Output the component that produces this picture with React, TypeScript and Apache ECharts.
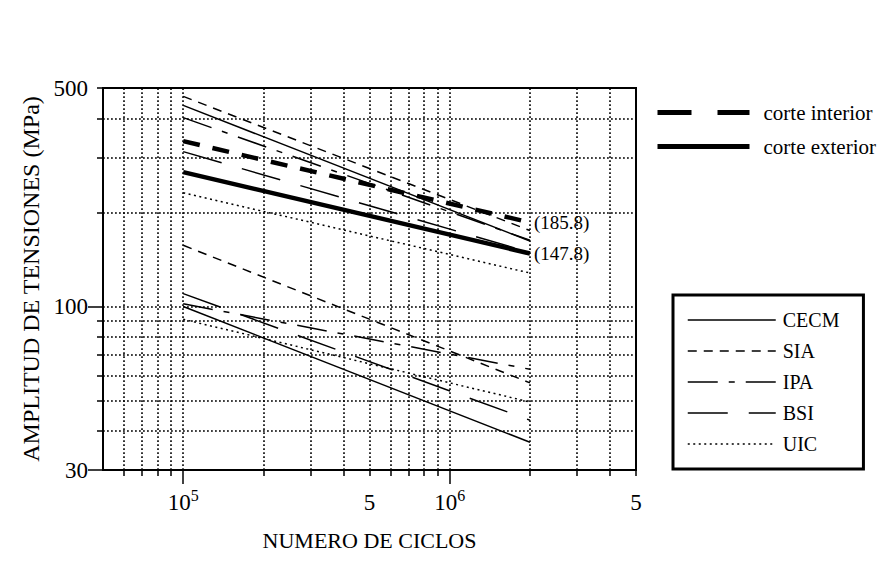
import React, { useEffect, useRef } from "react";
import * as echarts from "echarts";

// ---------------- data ----------------
const cycles = [1e5, 2e6];

const cecmUpper = [440, 162];
const siaUpper = [470, 175];
const ipaUpper = [402, 163];
const bsiUpper = [313, 149];
const uicUpper = [231, 128];
const corteInterior = [338, 185.8];
const corteExterior = [269, 147.8];

const cecmLower = [100, 36.8];
const siaLower = [157, 57];
const ipaLower = [102, 63];
const bsiLower = [110, 43.3];
const uicLower = [91, 49.5];

const endLabels = ["(185.8)", "(147.8)"];

const xLabelValues = [1e5, 5e5, 1e6, 5e6];
const xLabelTexts = ["10^5", "5", "10^6", "5"];
const yLabelValues = [30, 100, 500];
const yLabelTexts = ["30", "100", "500"];

const xMajorTicks = [1e5, 1e6];
const xMinorTicks = [6e4, 7e4, 8e4, 9e4, 2e5, 3e5, 4e5, 5e5, 6e5, 7e5, 8e5, 9e5, 2e6, 3e6, 4e6, 5e6];
const yMajorTicks = [30, 100];
const yMinorTicks = [40, 50, 60, 70, 80, 90, 200, 300, 400, 500];

const xGridValues = [6e4, 7e4, 8e4, 9e4, 1e5, 2e5, 3e5, 4e5, 5e5, 6e5, 7e5, 8e5, 9e5, 1e6, 2e6, 3e6, 4e6];
const yGridValues = [40, 50, 60, 70, 80, 90, 100, 200, 300, 400];

const codeNames = ["CECM", "SIA", "IPA", "BSI", "UIC"];
const corteNames = ["corte interior", "corte exterior"];

const xTitle = "NUMERO DE CICLOS";
const yTitle = "AMPLITUD DE TENSIONES (MPa)";

// ---------------- styles ----------------
const SERIF = "'Liberation Serif', 'DejaVu Serif', serif";
const INK = "#000";
const dashOf: Record<string, any> = {
  CECM: "solid",
  SIA: [9, 7],
  IPA: [30, 11, 6, 11],
  BSI: [40, 21],
  UIC: [2, 3.5],
};

function nearestIndex(values: number[], v: number) {
  let best = 0;
  let bd = Infinity;
  values.forEach((x, i) => {
    const d = Math.abs(Math.log10(x) - Math.log10(v));
    if (d < bd) {
      bd = d;
      best = i;
    }
  });
  return best;
}

function thin(name: string, values: number[]) {
  return {
    type: "line",
    name,
    data: cycles.map((c, i) => [c, values[i]]),
    symbol: "none",
    showSymbol: false,
    silent: true,
    z: 3,
    lineStyle: { color: INK, width: 1.5, type: dashOf[name] },
    itemStyle: { color: INK },
  };
}

export default function App() {
  const ref = useRef<HTMLDivElement>(null);

  useEffect(() => {
    if (!ref.current) return;
    const chart = echarts.init(ref.current, undefined, { renderer: "svg" });

    const series: any[] = [
      {
        type: "line",
        name: "_grid",
        data: [[1e5, 100]],
        symbol: "none",
        showSymbol: false,
        silent: true,
        z: 1,
        lineStyle: { opacity: 0 },
        markLine: {
          silent: true,
          animation: false,
          symbol: ["none", "none"],
          label: { show: false },
          lineStyle: { color: "#000", width: 1.6, type: [1.8, 2.2] },
          emphasis: { disabled: true },
          data: [
            ...xGridValues.map((v) => ({ xAxis: v })),
            ...yGridValues.map((v) => ({ yAxis: v })),
          ],
        },
      },
      thin("CECM", cecmUpper),
      thin("SIA", siaUpper),
      thin("IPA", ipaUpper),
      thin("BSI", bsiUpper),
      thin("UIC", uicUpper),
      thin("CECM", cecmLower),
      thin("SIA", siaLower),
      thin("IPA", ipaLower),
      thin("BSI", bsiLower),
      thin("UIC", uicLower),
      {
        type: "line",
        name: corteNames[0],
        data: cycles.map((c, i) => [c, corteInterior[i]]),
        symbol: "none",
        showSymbol: false,
        silent: true,
        z: 4,
        lineStyle: { color: INK, width: 4.5, type: [17, 13] },
        itemStyle: { color: INK },
        endLabel: {
          show: true,
          formatter: endLabels[0],
          distance: 4,
          fontFamily: SERIF,
          fontSize: 19,
          color: INK,
        },
      },
      {
        type: "line",
        name: corteNames[1],
        data: cycles.map((c, i) => [c, corteExterior[i]]),
        symbol: "none",
        showSymbol: false,
        silent: true,
        z: 4,
        lineStyle: { color: INK, width: 4.5, type: "solid" },
        itemStyle: { color: INK },
        endLabel: {
          show: true,
          formatter: endLabels[1],
          distance: 4,
          fontFamily: SERIF,
          fontSize: 19,
          color: INK,
        },
      },
    ];

    chart.setOption({
      animation: false,
      backgroundColor: "#fff",
      textStyle: { fontFamily: SERIF, color: INK },
      grid: {
        left: 103,
        top: 88,
        right: 248,
        bottom: 101,
        show: true,
        borderColor: INK,
        borderWidth: 2,
        backgroundColor: "transparent",
        containLabel: false,
      },
      xAxis: [
        {
          type: "log",
          logBase: 10,
          min: 5e4,
          max: 5e6,
          position: "bottom",
          axisLine: { show: true, lineStyle: { color: INK, width: 2 } },
          axisTick: {
            show: true,
            customValues: xMajorTicks,
            length: 14,
            lineStyle: { color: INK, width: 1.5 },
          },
          axisLabel: {
            show: true,
            customValues: xLabelValues,
            margin: 17,
            color: INK,
            formatter: (v: number) => {
              const t = xLabelTexts[nearestIndex(xLabelValues, v)];
              const [b, e] = t.split("^");
              return e ? `{n|${b}}{s|${e}}` : `{n|${b}}`;
            },
            rich: {
              n: { fontFamily: SERIF, fontSize: 23, color: INK, lineHeight: 30 },
              s: { fontFamily: SERIF, fontSize: 16, color: INK, lineHeight: 16, verticalAlign: "top" },
            },
          },
          splitLine: { show: false },
          name: xTitle,
          nameLocation: "middle",
          nameGap: 59,
          nameTextStyle: { fontFamily: SERIF, fontSize: 22, color: INK },
        },
        {
          type: "log",
          logBase: 10,
          min: 5e4,
          max: 5e6,
          position: "bottom",
          axisLine: { show: false },
          axisTick: {
            show: true,
            customValues: xMinorTicks,
            length: 6,
            lineStyle: { color: INK, width: 1.5 },
          },
          axisLabel: { show: false },
          splitLine: { show: false },
        },
      ],
      yAxis: [
        {
          type: "log",
          logBase: 10,
          min: 30,
          max: 500,
          position: "left",
          axisLine: { show: true, lineStyle: { color: INK, width: 2 } },
          axisTick: {
            show: true,
            customValues: yMajorTicks,
            length: 15,
            lineStyle: { color: INK, width: 1.5 },
          },
          axisLabel: {
            show: true,
            customValues: yLabelValues,
            margin: 15,
            color: INK,
            fontFamily: SERIF,
            fontSize: 23,
            formatter: (v: number) => yLabelTexts[nearestIndex(yLabelValues, v)],
          },
          splitLine: { show: false },
          name: yTitle,
          nameLocation: "middle",
          nameGap: 58,
          nameTextStyle: { fontFamily: SERIF, fontSize: 24, color: INK },
        },
        {
          type: "log",
          logBase: 10,
          min: 30,
          max: 500,
          position: "left",
          axisLine: { show: false },
          axisTick: {
            show: true,
            customValues: yMinorTicks,
            length: 6,
            lineStyle: { color: INK, width: 1.5 },
          },
          axisLabel: { show: false },
          splitLine: { show: false },
        },
      ],
      legend: [
        {
          show: true,
          orient: "vertical",
          left: 655,
          top: 102,
          padding: 0,
          itemWidth: 92,
          itemHeight: 14,
          itemGap: 13,
          selectedMode: false,
          itemStyle: { opacity: 0, borderWidth: 0 },
          lineStyle: { width: 5 },
          data: [
            { name: corteNames[0], lineStyle: { type: [34, 26], width: 5 } },
            { name: corteNames[1], lineStyle: { width: 5 } },
          ],
          textStyle: { fontFamily: SERIF, fontSize: 21, color: INK, padding: [0, 0, 0, 9] },
        },
        {
          show: true,
          orient: "vertical",
          left: 673,
          top: 295,
          padding: [15, 24, 15, 14],
          itemWidth: 88,
          itemHeight: 14,
          itemGap: 11,
          borderColor: INK,
          borderWidth: 3,
          selectedMode: false,
          itemStyle: { opacity: 0, borderWidth: 0 },
          lineStyle: { width: 1.5 },
          data: codeNames,
          textStyle: { fontFamily: SERIF, fontSize: 20, color: INK, padding: [0, 0, 0, 2] },
        },
      ],
      series,
    });

    return () => {
      chart.dispose();
    };
  }, []);

  return (
    <div
      ref={ref}
      style={{ position: "fixed", left: 0, top: 0, width: 884, height: 571, background: "#fff" }}
    />
  );
}
